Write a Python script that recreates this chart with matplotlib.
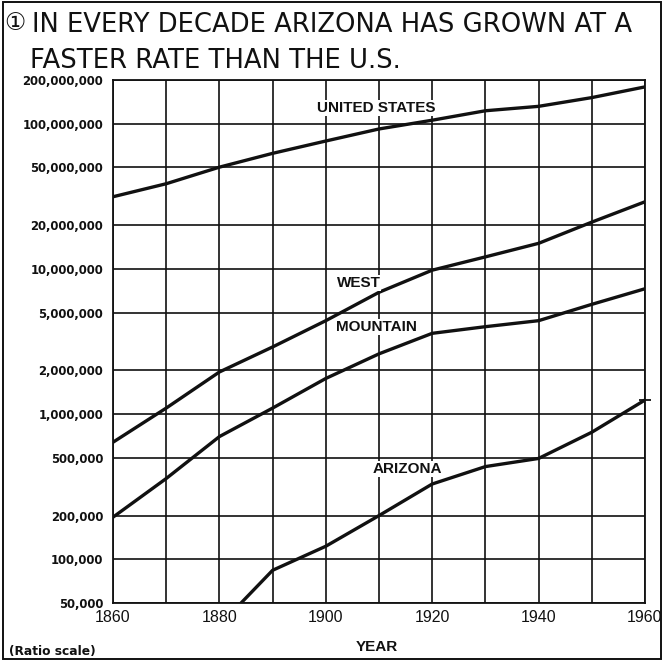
import matplotlib
matplotlib.use("Agg")
import matplotlib.pyplot as plt
from matplotlib.patches import Rectangle
from matplotlib.ticker import FixedLocator, NullLocator

YEARS = [1860, 1870, 1880, 1890, 1900, 1910, 1920, 1930, 1940, 1950, 1960]
US = [31.4e6, 38.6e6, 50.2e6, 62.5e6, 76.0e6, 92.0e6, 105.7e6, 122.8e6,
      131.7e6, 151.3e6, 179.3e6]
WEST = [640e3, 1.1e6, 1.95e6, 2.9e6, 4.4e6, 6.9e6, 9.8e6, 12.1e6, 15.0e6,
        21.0e6, 29.0e6]
MOUNTAIN = [195e3, 360e3, 700e3, 1.1e6, 1.76e6, 2.6e6, 3.6e6, 4.0e6, 4.4e6,
            5.7e6, 7.3e6]
AZ_YEARS = [1880, 1890, 1900, 1910, 1920, 1930, 1940, 1950, 1960]
ARIZONA = [35e3, 84e3, 123e3, 200e3, 330e3, 435e3, 495e3, 750e3, 1.25e6]

Y_TICKS = [50e3, 100e3, 200e3, 500e3, 1e6, 2e6, 5e6, 10e6, 20e6, 50e6,
           100e6, 200e6]
X_TICKS = [1860, 1880, 1900, 1920, 1940, 1960]

ink = "#111111"
W, H = 664, 662
fig = plt.figure(figsize=(W / 100, H / 100), dpi=100)
ax = fig.add_axes([113 / W, 1 - 603 / H, (645 - 113) / W, (603 - 80) / H])

ax.set_yscale("log")
ax.set_xlim(1860, 1960)
ax.set_ylim(50e3, 200e6)

# decade grid and ratio-scale grid
for yr in range(1860, 1961, 10):
    ax.axvline(yr, color=ink, lw=1.2, zorder=1)
for v in Y_TICKS:
    ax.axhline(v, color=ink, lw=1.2, zorder=1)

lw = 2.4
ax.plot(YEARS, US, color=ink, lw=lw, zorder=3)
ax.plot(YEARS, WEST, color=ink, lw=lw, zorder=3)
ax.plot(YEARS, MOUNTAIN, color=ink, lw=lw, zorder=3)
ax.plot(AZ_YEARS, ARIZONA, color=ink, lw=lw, zorder=3)
ax.plot(AZ_YEARS[-1:], ARIZONA[-1:], marker="_", ms=9, mew=1.3, color=ink,
        clip_on=False, zorder=3)

lab = dict(family="Liberation Sans", fontweight="bold", fontsize=11,
           ha="center", va="center", color=ink, zorder=4,
           bbox=dict(facecolor="white", edgecolor="none", pad=0.6))
ax.text(1909.4, 128e6, "UNITED STATES", **lab)
ax.text(1906.2, 8.0e6, "WEST", **lab)
ax.text(1909.6, 3.98e6, "MOUNTAIN", **lab)
ax.text(1915.3, 419e3, "ARIZONA", **lab)

ax.yaxis.set_major_locator(FixedLocator(Y_TICKS))
ax.yaxis.set_minor_locator(NullLocator())
ax.set_yticklabels([f"{int(v):,}" for v in Y_TICKS], family="DejaVu Sans",
                   fontweight="bold", fontsize=8.4, color=ink)
ax.set_xticks(X_TICKS, [str(x) for x in X_TICKS], family="Liberation Sans",
              fontsize=11.5, color=ink)
ax.tick_params(length=0, pad=7)
ax.tick_params(axis="x", pad=5)
for s in ax.spines.values():
    s.set_linewidth(1.3)
    s.set_color(ink)

fig.text(377 / W, 1 - 647 / H, "YEAR", family="Liberation Sans",
         fontweight="bold", fontsize=11, ha="center", va="center", color=ink)
fig.text(9 / W, 1 - 652 / H, "(Ratio scale)", family="DejaVu Sans",
         fontweight="bold", fontsize=8.8, ha="left", va="center", color=ink)

# title block
fig.text(4 / W, 1 - 30 / H, "\u2460", family=["DejaVu Sans", "Noto Sans CJK SC"],
         fontsize=17, ha="left", va="baseline", color=ink)
fig.text(32 / W, 1 - 32 / H, "IN EVERY DECADE ARIZONA HAS GROWN AT A",
         family="DejaVu Sans", fontsize=18.6, ha="left", va="baseline",
         color=ink)
fig.text(30 / W, 1 - 68 / H, "FASTER RATE THAN THE U.S.",
         family="DejaVu Sans", fontsize=18.6, ha="left", va="baseline",
         color=ink)

fig.patches.append(Rectangle((3 / W, 3 / H), 1 - 6 / W, 1 - 5 / H,
                             transform=fig.transFigure, fill=False,
                             edgecolor=ink, lw=1.4))

fig.savefig("out.png", dpi=100)
